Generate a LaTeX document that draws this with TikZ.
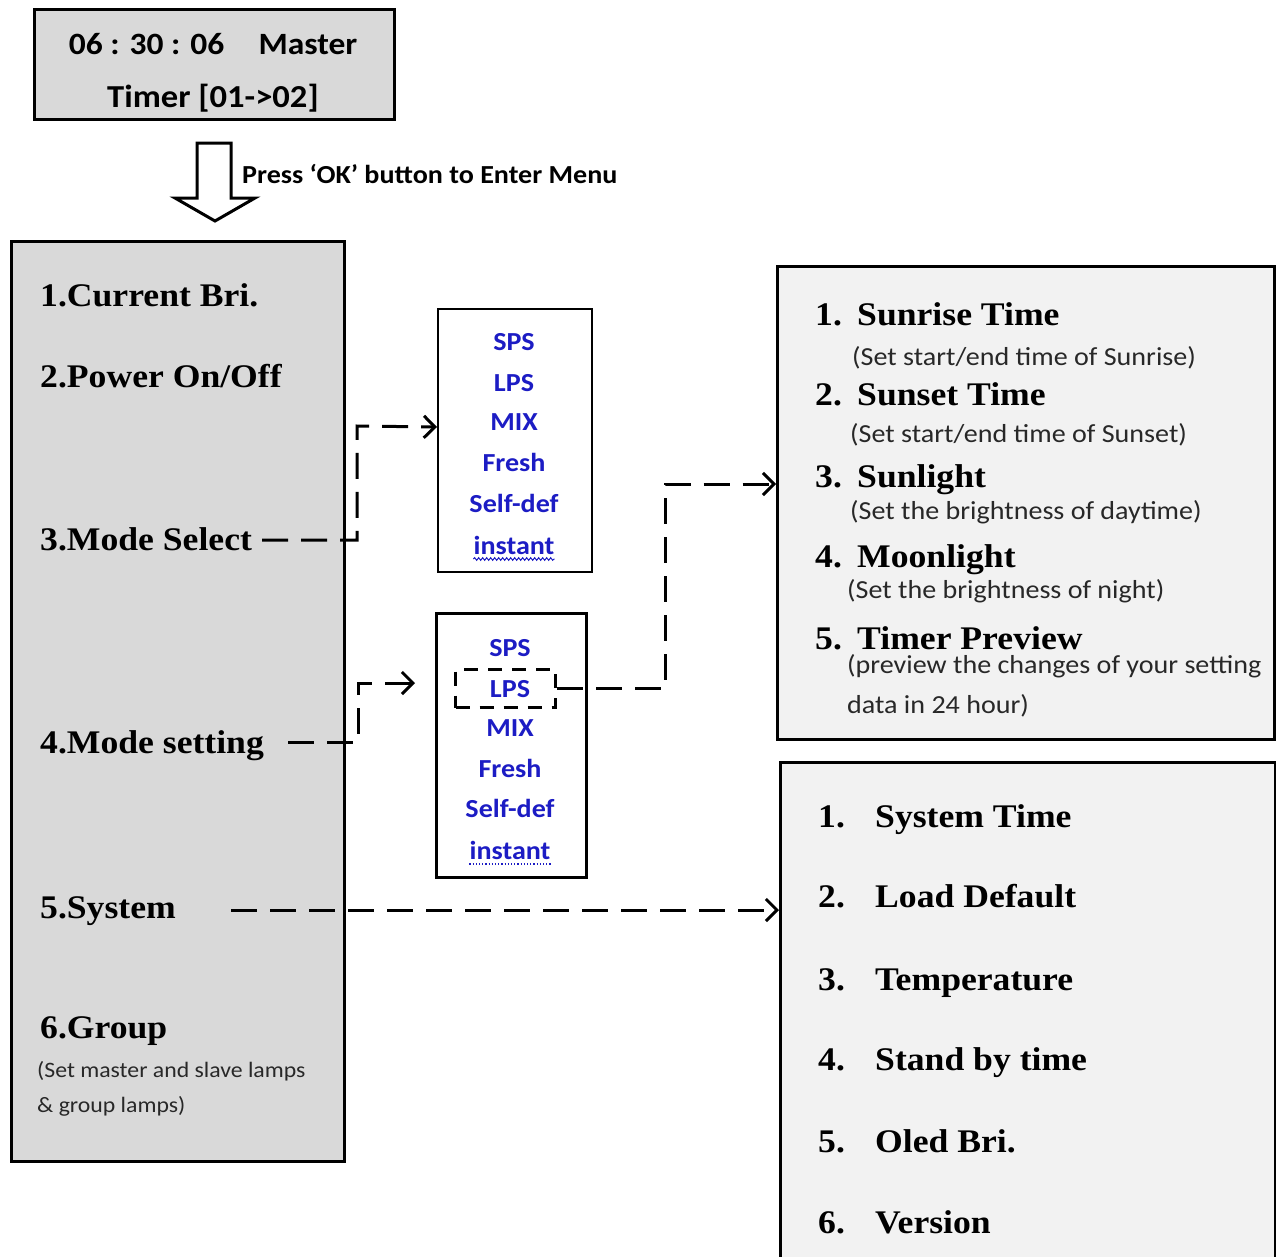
\documentclass[tikz,border=0pt]{standalone}
\usepackage{fontspec}
\setmainfont{Liberation Serif}
\newfontfamily\calibfont[FakeStretch=1.08]{Carlito}
\newfontfamily\serfont[FakeStretch=1.08]{Liberation Serif}
\usetikzlibrary{arrows.meta,decorations.pathmorphing}
\definecolor{boxgray}{RGB}{217,217,217}
\definecolor{lightbox}{RGB}{242,242,242}
\definecolor{modeblue}{RGB}{28,28,196}
\definecolor{subgray}{RGB}{40,40,40}
\tikzset{
  frame/.style={draw=black, line width=3pt, inner sep=0pt, anchor=north west},
  txt/.style={inner sep=0pt, anchor=base west},
  head/.style={txt, font=\serfont\bfseries\fontsize{33}{38}\selectfont},
  sub/.style={txt, font=\calibfont\fontsize{26}{30}\selectfont, text=subgray},
  mode/.style={inner sep=0pt, anchor=base, font=\calibfont\bfseries\fontsize{26}{30}\selectfont, text=modeblue},
  conn/.style={line width=3pt, dash pattern=on 26pt off 13pt, -{Straight Barb[length=11pt,width=22pt]}},
}
\begin{document}
\begin{tikzpicture}[x=1pt,y=-1pt]
\useasboundingbox (0,0) rectangle (1276,1256);
% top display
\node[frame, fill=boxgray, minimum width=360pt, minimum height=110pt] (disp) at (33,8) {};
\node[inner sep=0pt, anchor=base, font=\calibfont\bfseries\fontsize{31}{36}\selectfont] (l1) at (213,54) {06 : 30 : 06\hspace{1.1em}Master};
\node[inner sep=0pt, anchor=base, font=\calibfont\bfseries\fontsize{32}{36}\selectfont] (l2) at (213,107) {Timer [01->02]};
% hollow arrow
\draw[line width=3pt, fill=white, line join=miter] (197,143) -- (231,143) -- (231,198) -- (255,198) -- (215,221) -- (175,198) -- (197,198) -- cycle;
\node[txt, font=\calibfont\bfseries\fontsize{26}{30}\selectfont] (press) at (242,183) {Press ‘OK’ button to Enter Menu};
% main menu
\node[frame, fill=boxgray, minimum width=333pt, minimum height=920pt] (menu) at (10,240) {};
\node[head] (cb) at (40,306) {1.Current Bri.};
\node[head] (po) at (40,387) {2.Power On/Off};
\node[head] (ms) at (40,550) {3.Mode Select};
\node[head] (mset) at (40,753) {4.Mode setting};
\node[head] (sys) at (40,918) {5.System};
\node[head] (grp) at (40,1038) {6.Group};
\node[sub, font=\calibfont\fontsize{22}{26}\selectfont] (grps1) at (37,1077) {(Set master and slave lamps};
\node[sub, font=\calibfont\fontsize{22}{26}\selectfont] (grps2) at (37,1112) {\& group lamps)};
% mode select list
\node[frame, line width=2pt, fill=white, minimum width=154pt, minimum height=263pt] (box1) at (437,308) {};
\node[mode] (a1) at (514,350) {SPS};
\node[mode] (a2) at (514,391) {LPS};
\node[mode] (a3) at (514,430) {MIX};
\node[mode] (a4) at (514,471) {Fresh};
\node[mode] (a5) at (514,512) {Self-def};
\node[mode] (a6) at (514,554) {instant};
\draw[modeblue, line width=1pt, decorate, decoration={snake, amplitude=1.3pt, segment length=4pt}] ([yshift=-5pt]a6.base west) -- ([yshift=-5pt]a6.base east);
% mode setting list
\node[frame, fill=white, minimum width=150pt, minimum height=264pt] (box2) at (435,612) {};
\node[mode] (b1) at (510,656) {SPS};
\node[mode] (b2) at (510,697) {LPS};
\node[mode] (b3) at (510,736) {MIX};
\node[mode] (b4) at (510,777) {Fresh};
\node[mode] (b5) at (510,817) {Self-def};
\node[mode] (b6) at (510,859) {instant};
\draw[modeblue, line width=1.2pt, dotted] ([yshift=-5pt]b6.base west) -- ([yshift=-5pt]b6.base east);
\node[draw, line width=3pt, dash pattern=on 14pt off 10pt, inner sep=0pt, minimum width=100pt, minimum height=38pt, anchor=north west] (lpsbox) at (454,668) {};
% sunrise box
\node[frame, fill=lightbox, minimum width=497pt, minimum height=473pt] (rt) at (776,265) {};
\node[head] (r1n) at (815,325) {1.};
\node[head] (r1) at (857,325) {Sunrise Time};
\node[sub] (r1s) at (852,365) {(Set start/end time of Sunrise)};
\node[head] (r2n) at (815,405) {2.};
\node[head] (r2) at (857,405) {Sunset Time};
\node[sub] (r2s) at (850,442) {(Set start/end time of Sunset)};
\node[head] (r3n) at (815,487) {3.};
\node[head] (r3) at (857,487) {Sunlight};
\node[sub] (r3s) at (850,519) {(Set the brightness of daytime)};
\node[head] (r4n) at (815,567) {4.};
\node[head] (r4) at (857,567) {Moonlight};
\node[sub] (r4s) at (847,598) {(Set the brightness of night)};
\node[head] (r5n) at (815,649) {5.};
\node[head] (r5) at (857,649) {Timer Preview};
\node[sub] (r5s) at (847,673) {(preview the changes of your setting};
\node[sub] (r5t) at (847,713) {data in 24 hour)};
% system box
\node[frame, fill=lightbox, minimum width=495pt, minimum height=505pt] (rb) at (779,761) {};
\node[head] (s1n) at (818,827) {1.};
\node[head] (s1) at (875,827) {System Time};
\node[head] (s2n) at (818,907) {2.};
\node[head] (s2) at (875,907) {Load Default};
\node[head] (s3n) at (818,990) {3.};
\node[head] (s3) at (875,990) {Temperature};
\node[head] (s4n) at (818,1070) {4.};
\node[head] (s4) at (875,1070) {Stand by time};
\node[head] (s5n) at (818,1152) {5.};
\node[head] (s5) at (875,1152) {Oled Bri.};
\node[head] (s6n) at (818,1233) {6.};
\node[head] (s6) at (875,1233) {Version};
% connectors
\coordinate (c1) at (357,426);
\draw[conn] ([xshift=10pt]ms.east |- 0,540) -- (c1 |- 0,540) -- (c1) -- ([yshift=13.5pt]box1.west);
\coordinate (c2) at (358,683);
\coordinate (e2) at (415,683);
\draw[conn] ([xshift=24pt]mset.east |- 0,742) -- (c2 |- 0,742) -- (c2) -- (e2);
\coordinate (c3) at (665,484);
\draw[conn] (lpsbox.east) -- (c3 |- lpsbox.east) -- (c3) -- (rt.west |- c3);
\draw[conn] ([xshift=55pt]sys.east |- 0,910) -- (rb.west |- 0,910);
\end{tikzpicture}
\end{document}
